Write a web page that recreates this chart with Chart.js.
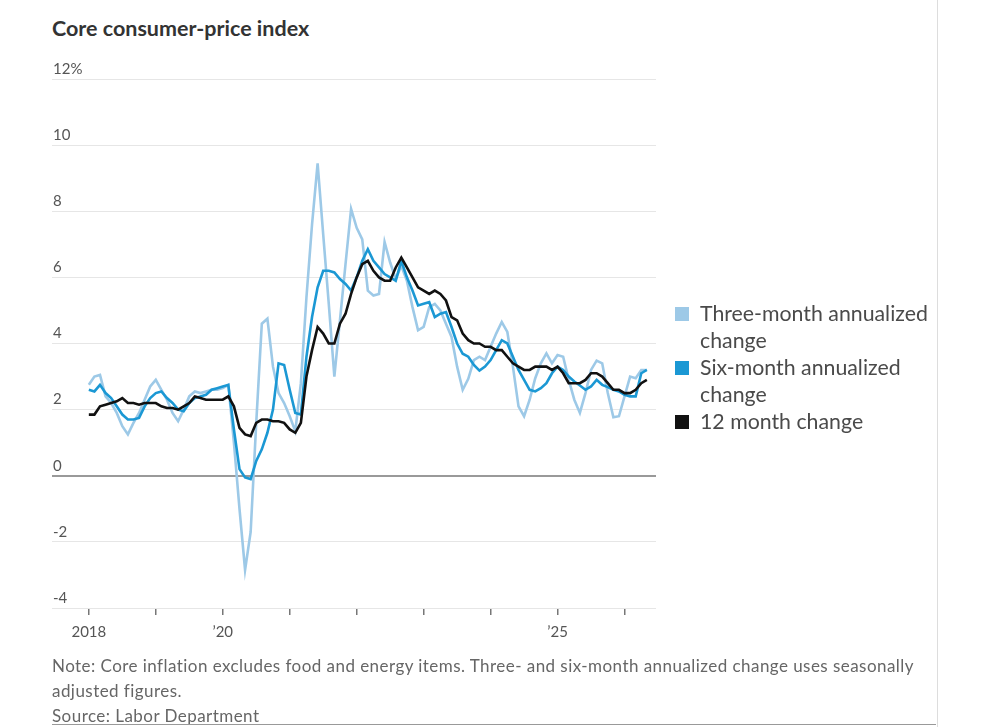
<!DOCTYPE html>
<html>
<head>
  <title>Core consumer-price index</title>
  <style>
    body { margin: 0; background: #fff; font-family: Lato, "Noto Sans", sans-serif; }
    .wrap { position: relative; width: 1000px; height: 727px; overflow: hidden; }
    .title { position: absolute; left: 52px; top: 16px; font-size: 21.5px; line-height: 24px; font-weight: bold; color: #333; }
    #chart { position: absolute; left: 0; top: 0; }
    .legend { position: absolute; left: 675px; top: 300px; font-size: 21.3px; color: #4a4a4a; line-height: 27px; }
    .legend .item { position: relative; padding-left: 25px; }
    .legend .box { position: absolute; left: 0; top: 7px; width: 14px; height: 14px; }
    .note { position: absolute; left: 52px; top: 653px; font-size: 17px; letter-spacing: 0.45px; color: #666; line-height: 25px; }
    .rule { position: absolute; left: 52px; top: 724px; width: 884px; height: 1px; background: #999; }
    .side { position: absolute; left: 937px; top: 0; width: 1px; height: 727px; background: #ddd; }
  </style>
</head>
<body>
<div class="wrap">
  <div class="title">Core consumer-price index</div>
  <canvas id="chart" width="680" height="660"></canvas>
  <div class="legend" id="legend"></div>
  <div class="note">Note: Core inflation excludes food and energy items. Three- and six-month annualized change uses seasonally<br>adjusted figures.<br>Source: Labor Department</div>
  <div class="rule"></div>
  <div class="side"></div>
</div>

<script src="https://cdn.jsdelivr.net/npm/chart.js"></script>
<script>
// monthly, starting Jan 2018
const startYear = 2018;

const threeMonth = [
  2.75, 3.0, 3.05, 2.4, 2.2, 1.9, 1.5, 1.25, 1.6, 1.9, 2.3, 2.7,
  2.9, 2.6, 2.3, 1.9, 1.65, 2.0, 2.4, 2.55, 2.5, 2.55, 2.6, 2.6,
  2.65, 2.75, 1.0, -1.0, -2.85, -1.7, 1.6, 4.6, 4.75, 3.3, 2.5, 2.2,
  1.8, 1.35, 2.8, 5.4, 7.6, 9.45, 7.3, 5.2, 3.0, 4.7, 6.4, 8.07,
  7.5, 7.15, 5.6, 5.45, 5.5, 7.07, 6.45, 5.95, 6.35, 5.9, 5.1, 4.4,
  4.5, 5.1, 5.2, 5.0, 4.6, 4.2, 3.3, 2.6, 2.93, 3.5, 3.6, 3.5,
  3.9, 4.3, 4.65, 4.35, 3.3, 2.1, 1.8, 2.3, 2.95, 3.4, 3.7, 3.4,
  3.65, 3.6, 2.9, 2.3, 1.9, 2.5, 3.2, 3.48, 3.4, 2.5, 1.77, 1.8,
  2.4, 3.0, 2.95, 3.2, 3.2
];

const sixMonth = [
  2.6, 2.55, 2.75, 2.5, 2.35, 2.1, 1.85, 1.7, 1.7, 1.75, 2.1, 2.35,
  2.5, 2.55, 2.35, 2.2, 2.0, 1.95, 2.2, 2.35, 2.4, 2.45, 2.6, 2.65,
  2.7, 2.75, 1.4, 0.2, -0.05, -0.1, 0.45, 0.8, 1.3, 2.0, 3.4, 3.35,
  2.6, 1.9, 1.85, 3.6, 4.8, 5.7, 6.2, 6.2, 6.15, 5.95, 5.8, 5.6,
  6.0, 6.5, 6.85, 6.5, 6.3, 6.1, 6.0, 5.9, 6.5, 6.0, 5.6, 5.15,
  5.2, 5.25, 4.8, 4.9, 4.95, 4.5, 4.0, 3.69, 3.6, 3.35, 3.18, 3.3,
  3.5, 3.8, 4.1, 4.0, 3.6, 3.2, 2.9, 2.6, 2.55, 2.65, 2.8, 3.1,
  3.3, 3.2, 3.0, 2.85, 2.73, 2.6, 2.7, 2.9, 2.75, 2.68, 2.6, 2.55,
  2.45, 2.4, 2.4, 3.1, 3.2
];

const twelveMonth = [
  1.85, 1.85, 2.1, 2.15, 2.2, 2.25, 2.35, 2.2, 2.2, 2.15, 2.2, 2.2,
  2.2, 2.1, 2.05, 2.05, 2.0, 2.1, 2.2, 2.4, 2.35, 2.3, 2.3, 2.3,
  2.3, 2.4, 2.1, 1.45, 1.25, 1.2, 1.6, 1.7, 1.7, 1.65, 1.65, 1.6,
  1.4, 1.3, 1.6, 3.0, 3.8, 4.5, 4.3, 4.0, 4.0, 4.6, 4.9, 5.5,
  6.0, 6.4, 6.5, 6.2, 6.0, 5.9, 5.9, 6.3, 6.6, 6.3, 6.0, 5.7,
  5.6, 5.5, 5.6, 5.5, 5.3, 4.8, 4.7, 4.3, 4.1, 4.0, 4.0, 3.9,
  3.9, 3.8, 3.8, 3.6, 3.4, 3.3, 3.2, 3.2, 3.3, 3.3, 3.3, 3.2,
  3.3, 3.1, 2.8, 2.8, 2.8, 2.9, 3.1, 3.1, 3.0, 2.8, 2.6, 2.6,
  2.5, 2.5, 2.6, 2.8, 2.9
];

const yearTicks = [2018, 2019, 2020, 2021, 2022, 2023, 2024, 2025, 2026];
const yearLabels = { 2018: '2018', 2020: '\u201920', 2025: '\u201925' };
const yTicks = [-4, -2, 0, 2, 4, 6, 8, 10, 12];

const seriesNames = ['Three-month annualized change', 'Six-month annualized change', '12 month change'];
const seriesColors = ['#9dc9e7', '#1b98d4', '#111111'];

function toPoints(arr) {
  return arr.map((v, i) => ({ x: startYear + i / 12, y: v }));
}

// html legend
const legend = document.getElementById('legend');
seriesNames.forEach((name, i) => {
  const item = document.createElement('div');
  item.className = 'item';
  const words = name.split(' ');
  let text = name;
  if (name.indexOf('annualized') > -1) {
    text = words.slice(0, 2).join(' ') + '<br>' + words.slice(2).join(' ');
  }
  item.innerHTML = '<span class="box" style="background:' + seriesColors[i] + '"></span>' + text;
  legend.appendChild(item);
});

const ctx = document.getElementById('chart').getContext('2d');
new Chart(ctx, {
  type: 'line',
  data: {
    datasets: [
      { label: seriesNames[0], data: toPoints(threeMonth), borderColor: seriesColors[0], borderWidth: 2.6, order: 2 },
      { label: seriesNames[1], data: toPoints(sixMonth), borderColor: seriesColors[1], borderWidth: 2.6, order: 1 },
      { label: seriesNames[2], data: toPoints(twelveMonth), borderColor: seriesColors[2], borderWidth: 2.6, order: 0 }
    ]
  },
  options: {
    responsive: false,
    animation: false,
    elements: { point: { radius: 0 }, line: { tension: 0, fill: false } },
    layout: { padding: { left: 52, top: 79, right: 24, bottom: 12 } },
    plugins: { legend: { display: false }, tooltip: { enabled: false } },
    scales: {
      x: {
        type: 'linear',
        min: 2017.45,
        max: 2026.47,
        afterBuildTicks: s => { s.ticks = yearTicks.map(v => ({ value: v })); },
        afterFit: s => { s.height = 40; },
        border: { display: false },
        grid: { drawOnChartArea: false, drawTicks: true, tickLength: 7, color: '#777', lineWidth: 1.5 },
        ticks: {
          autoSkip: false,
          maxRotation: 0,
          padding: 8,
          color: '#555',
          font: { family: 'Lato', size: 15 },
          callback: v => yearLabels[v] || ''
        }
      },
      y: {
        min: -4,
        max: 12,
        afterBuildTicks: s => { s.ticks = yTicks.map(v => ({ value: v })); },
        afterFit: s => { s.width = 0; },
        border: { display: false },
        grid: {
          drawTicks: false,
          color: c => c.tick.value === 0 ? '#999' : '#e6e6e6',
          lineWidth: c => c.tick.value === 0 ? 2 : 1
        },
        ticks: {
          mirror: true,
          padding: 1,
          labelOffset: -10,
          color: '#555',
          font: { family: 'Lato', size: 15 },
          callback: v => v === 12 ? '12%' : v
        }
      }
    }
  }
});
</script>
</body>
</html>
